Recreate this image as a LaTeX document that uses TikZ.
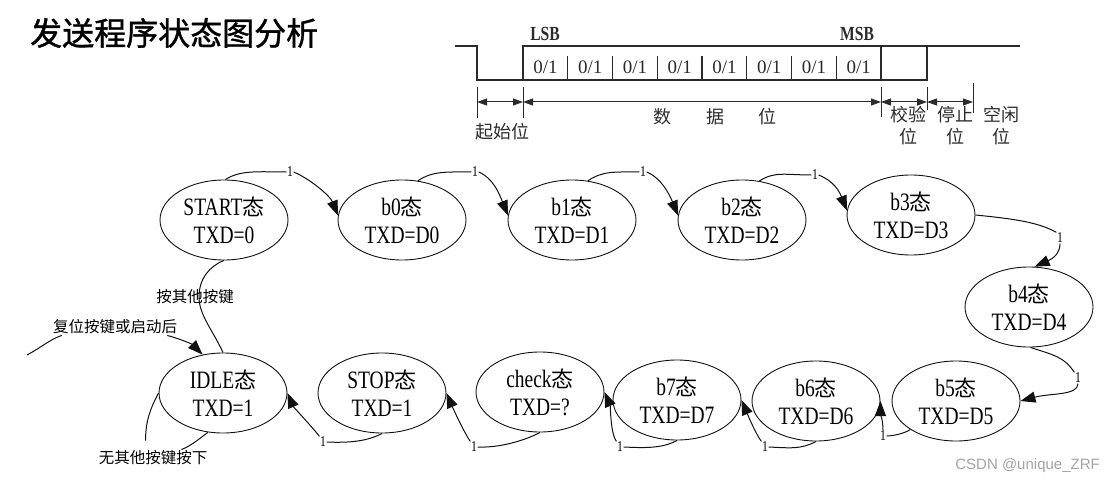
\documentclass[tikz,border=0pt]{standalone}
\usepackage{fontspec}
\usepackage{tikz}
\usetikzlibrary{shapes.geometric,arrows.meta}
\newfontfamily\narrow{Liberation Serif}[FakeStretch=0.78]
\newfontfamily\plainserif{Liberation Serif}
\newfontfamily\hei{Noto Sans CJK SC}
\newfontfamily\heavyhei{Noto Sans CJK SC}[FakeBold=1.2]
\newfontfamily\wm{Liberation Sans}
\definecolor{ink}{HTML}{111111}
\definecolor{scan}{HTML}{2B2B2B}
\definecolor{mark}{HTML}{A3A3A3}
\newcommand{\tai}{{\hei\fontsize{22}{28}\selectfont 态}}

\begin{document}
\begin{tikzpicture}[x=1pt,y=-1pt,
    stat/.style={ellipse,draw=ink,line width=0.9pt,minimum width=128pt,minimum height=80pt,
      inner sep=0pt,align=center,font=\narrow\fontsize{25}{28}\selectfont},
    one/.style={font=\narrow\fontsize{15}{15}\selectfont,inner sep=0.5pt},
    note/.style={font=\hei\fontsize{15.5}{18}\selectfont,inner sep=1pt},
    link/.style={draw=ink,line width=1pt},
    arr/.style={-{Triangle[length=15pt,width=11pt]}},
    wave/.style={draw=scan,line width=1.4pt},
    measure/.style={draw=scan,line width=1pt,{Triangle[length=10pt,width=7pt]}-{Triangle[length=10pt,width=7pt]}},
    bit/.style={font=\plainserif\fontsize{19}{19}\selectfont,text=scan,inner sep=0pt},
    field/.style={font=\hei\fontsize{18}{22}\selectfont,text=scan,inner sep=0pt,align=center}]

  \useasboundingbox (0,0) rectangle (1111,484);

  \node[font=\heavyhei\fontsize{32}{32}\selectfont,anchor=west,inner sep=0pt] (title) at (30,33) {发送程序状态图分析};

  % frame format: start bit, 8 data bits, parity, stop, idle
  \draw[wave] (455,46) -- (477,46) -- (477,80) -- (523,80) -- (523,46) -- (1020,46);
  \draw[wave] (523,80) -- (927,80) -- (927,46);
  \draw[wave] (881,46) -- (881,80);
  \foreach \k in {1,...,7}
    \draw[wave] ({523+44.75*\k},56) -- ({523+44.75*\k},80);
  \foreach \k in {0,...,7}
    \node[bit] (bit\k) at ({545.4+44.75*\k},67) {0/1};
  \node[bit,font=\narrow\bfseries\fontsize{20}{20}\selectfont] (lsb) at (545,34) {LSB};
  \node[bit,font=\narrow\bfseries\fontsize{20}{20}\selectfont] (msb) at (857,34) {MSB};

  \foreach \x/\a/\b in {477/87/118,523/87/118,881/87/117,927/87/110,973/83/113}
    \draw[wave,line width=1pt] (\x,\a) -- (\x,\b);
  \coordinate (t0) at (477,102);
  \coordinate (t1) at (523,102);
  \coordinate (t2) at (881,102);
  \coordinate (t3) at (927,102);
  \coordinate (t4) at (973,102);
  \draw[measure] (t0) -- (t1);
  \draw[measure] (t1) -- (t2);
  \draw[measure] (t2) -- (t3);
  \draw[measure] (t3) -- (t4);

  \node[field] (fstart) at (502,132) {起始位};
  \node[field] (fdata) at (715,117) {数\hspace{35pt}据\hspace{35pt}位};
  \node[field] (fpar) at (908,126) {校验\\位};
  \node[field] (fstop) at (955,126) {停止\\位};
  \node[field] (fidle) at (1001,126) {空闲\\位};

  % states
  \node[stat] (start) at (224,220) {START\tai\\TXD=0};
  \node[stat] (b0) at (402,220) {b0\tai\\TXD=D0};
  \node[stat] (b1) at (572,220) {b1\tai\\TXD=D1};
  \node[stat] (b2) at (742,220) {b2\tai\\TXD=D2};
  \node[stat] (b3) at (911,215) {b3\tai\\TXD=D3};
  \node[stat] (b4) at (1029,307) {b4\tai\\TXD=D4};
  \node[stat] (b5) at (956,401) {b5\tai\\TXD=D5};
  \node[stat] (b6) at (816,401) {b6\tai\\TXD=D6};
  \node[stat] (b7) at (677,400) {b7\tai\\TXD=D7};
  \node[stat] (check) at (540,392) {check\tai\\TXD=?};
  \node[stat] (stop) at (382,393) {STOP\tai\\TXD=1};
  \node[stat] (idle) at (223,393) {IDLE\tai\\TXD=1};

  % the "1" on every bit step
  \node[one] (l0) at (290,172) {1};
  \node[one] (l1) at (475,172) {1};
  \node[one] (l2) at (643,172) {1};
  \node[one] (l3) at (815,175) {1};
  \node[one] (l4) at (1060,238) {1};
  \node[one] (l5) at (1078,378) {1};
  \node[one] (l6) at (883,436) {1};
  \node[one] (l7) at (765,447) {1};
  \node[one] (l8) at (620,447) {1};
  \node[one] (l9) at (474,447) {1};
  \node[one] (l10) at (323,442) {1};

  % top row, left to right
  \draw[link] (start.88) .. controls +(15,-10) and +(-25,0) .. (l0.west);
  \draw[link,arr] (l0.east) .. controls +(15,6) and +(-8,-20) .. (b0.176);
  \draw[link] (b0.68) .. controls +(15,-10) and +(-25,0) .. (l1.west);
  \draw[link,arr] (l1.east) .. controls +(15,6) and +(-8,-20) .. (b1.176);
  \draw[link] (b1.68) .. controls +(15,-10) and +(-25,0) .. (l2.west);
  \draw[link,arr] (l2.east) .. controls +(15,6) and +(-8,-20) .. (b2.176);
  \draw[link] (b2.66) .. controls +(15,-10) and +(-25,0) .. (l3.west);
  \draw[link,arr] (l3.east) .. controls +(15,6) and +(-8,-20) .. (b3.176);

  % down the right side
  \draw[link] (b3.east) .. controls +(40,4) and +(-18,-10) .. (l4.north west);
  \draw[link,arr] (l4.south) .. controls +(0,10) and +(18,-8) .. (b4.82);
  \draw[link] (b4.-88) .. controls +(25,8) and +(-10,-15) .. (l5.north west);
  \draw[link,arr] (l5.south) .. controls +(0,12) and +(30,-8) .. (b5.east);

  % bottom row, right to left
  \draw[link] (b5.212) .. controls +(-6,4) and +(6,0) .. (l6.east);
  \draw[link,arr] (l6.north) .. controls +(0,-10) and +(0,12) .. (b6.east);
  \draw[link] (b6.south) .. controls +(-15,8) and +(22,1) .. (l7.east);
  \draw[link,arr] (l7.north west) .. controls +(-6,-8) and +(6,14) .. (b7.east);
  \draw[link] (b7.south) .. controls +(-15,8) and +(22,1) .. (l8.east);
  \draw[link,arr] (l8.north west) .. controls +(-6,-8) and +(6,14) .. (check.east);
  \draw[link] (check.south) .. controls +(-15,8) and +(22,1) .. (l9.east);
  \draw[link,arr] (l9.north west) .. controls +(-6,-8) and +(6,14) .. (stop.east);
  \draw[link] (stop.south) .. controls +(-15,8) and +(22,1) .. (l10.east);
  \draw[link,arr] (l10.north west) .. controls +(-6,-8) and +(6,14) .. (idle.east);

  % idle: reset entry, key press, waiting loop
  \coordinate (boot) at (27,355);
  \node[note] (lboot) at (115,327) {复位按键或启动后};
  \draw[link] (boot) .. controls +(15,-8) and +(-12,4) .. ([xshift=10pt]lboot.south west);
  \draw[link,arr] ([xshift=-11pt]lboot.south east) .. controls +(15,4) and +(-10,-10) .. (idle.118);

  \node[note] (lkey) at (195,297) {按其他按键};
  \draw[link] (start.south) .. controls +(-15,6) and +(0,-18) .. ([xshift=4pt]lkey.center)
    .. controls +(0,18) and +(-10,-22) .. (idle.north);

  \node[note] (lidle) at (153,458) {无其他按键按下};
  \draw[link] (idle.west) .. controls +(-8,15) and +(0,-20) .. ([xshift=48pt,yshift=9pt]lidle.north west);
  \draw[link] ([xshift=-27pt]lidle.north east) .. controls +(10,-4) and +(-8,6) .. (idle.249);

  \node[font=\wm\fontsize{15}{15}\selectfont,text=mark,anchor=east,inner sep=0pt] (wmk) at (1100,466) {CSDN @unique\_ZRF};
\end{tikzpicture}
\end{document}
